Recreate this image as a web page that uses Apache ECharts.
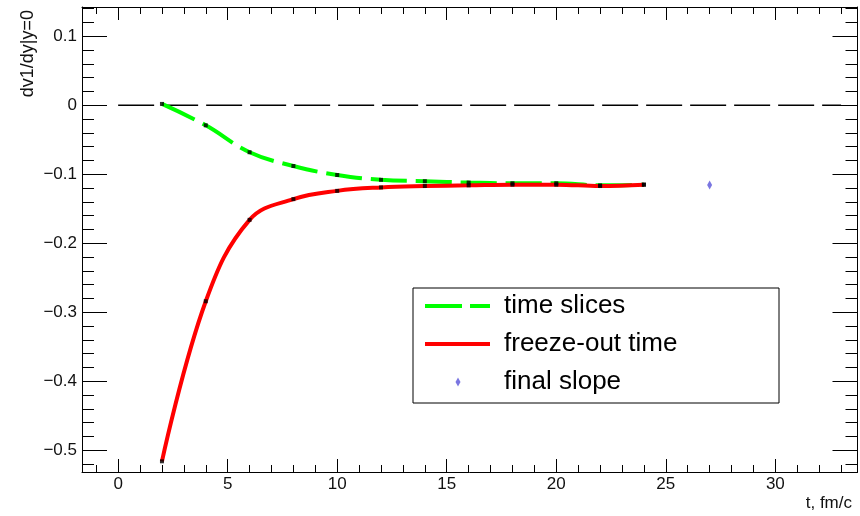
<!DOCTYPE html>
<html>
<head>
<meta charset="utf-8">
<script src="https://cdn.jsdelivr.net/npm/echarts@6/dist/echarts.min.js"></script>
<style>html,body{margin:0;padding:0;background:#fff}#c{width:860px;height:516px}</style>
</head>
<body>
<div id="c"></div>
<script>
// ---- data ----
const tValues = [2, 4, 6, 8, 10, 12, 14, 16, 18, 20, 22, 24];
const timeSlices = [0.002, -0.029, -0.068, -0.088, -0.101, -0.108, -0.110, -0.112, -0.113, -0.113, -0.116, -0.115];
const freezeOut = [-0.516, -0.284, -0.166, -0.136, -0.124, -0.119, -0.117, -0.116, -0.115, -0.115, -0.117, -0.115];
const finalSlopeT = [27];
const finalSlope = [-0.1155];
const zeroLineT = [0, 33];
const zeroLine = [0, 0];
const seriesNames = ['time slices', 'freeze-out time', 'final slope'];
const xTitle = 't, fm/c';
const yTitle = 'dv1/dy|y=0';

const pairs = (xs, ys) => xs.map((x, i) => [x, ys[i]]);
const REG = "'Liberation Sans', Arial, sans-serif";
const black = '#000';

const chart = echarts.init(document.getElementById('c'), null, {renderer: 'canvas'});

const xCommon = {
  type: 'value', min: -1.65, max: 33.75, splitNumber: 7,
  axisLine: {show: true, onZero: false, lineStyle: {color: black, width: 1}},
  axisTick: {show: true, inside: true, length: 13, lineStyle: {color: black, width: 1}},
  minorTick: {show: true, splitNumber: 5, length: 7, lineStyle: {color: black, width: 1}},
  splitLine: {show: false}, minorSplitLine: {show: false}
};
const yCommon = {
  type: 'value', min: -0.5315, max: 0.1425, splitNumber: 7,
  axisLine: {show: true, onZero: false, lineStyle: {color: black, width: 1}},
  axisTick: {show: true, inside: true, length: 25, lineStyle: {color: black, width: 1}},
  minorTick: {show: true, splitNumber: 5, length: 12, lineStyle: {color: black, width: 1}},
  splitLine: {show: false}, minorSplitLine: {show: false}
};

const greenIcon = 'path://M0,0M65,9M0,2.5H37V6.5H0Z M45,2.5H65V6.5H45Z';
const redIcon = 'path://M0,0M65,9M0,2.5H65V6.5H0Z';
const diamondIcon = 'path://M0,0M65,9M33,0L35.5,4.5L33,9L30.5,4.5Z';

chart.setOption({
  animation: false,
  backgroundColor: '#fff',
  grid: {left: 82, right: 2.5, top: 7, bottom: 44, containLabel: false},
  xAxis: [
    Object.assign({}, xCommon, {position: 'bottom',
      axisLabel: {show: true, margin: 4, showMinLabel: false, showMaxLabel: false,
        color: '#111', fontFamily: REG, fontSize: 17}}),
    Object.assign({}, xCommon, {position: 'top', axisLabel: {show: false}})
  ],
  yAxis: [
    Object.assign({}, yCommon, {position: 'left',
      axisLabel: {show: true, margin: 5, showMinLabel: false, showMaxLabel: false,
        color: '#111', fontFamily: REG, fontSize: 17,
        formatter: v => Math.abs(v) < 1e-9 ? '0' : (v < 0 ? '\u2212' : '') + Math.abs(v).toFixed(1)}}),
    Object.assign({}, yCommon, {position: 'right', axisLabel: {show: false}})
  ],
  legend: {
    orient: 'vertical', left: 425, top: 291, padding: 0, itemGap: 8,
    itemWidth: 65, itemHeight: 9, selectedMode: false,
    textStyle: {fontFamily: REG, fontSize: 26, lineHeight: 30, color: '#000', padding: [0, 0, 0, 9]},
    data: [
      {name: seriesNames[0], icon: greenIcon, itemStyle: {color: '#00ff00', borderWidth: 0}},
      {name: seriesNames[1], icon: redIcon, itemStyle: {color: '#ff0000', borderWidth: 0}},
      {name: seriesNames[2], icon: diamondIcon, itemStyle: {color: '#5954d9', borderWidth: 0}}
    ]
  },
  graphic: [
    {type: 'rect', shape: {x: 413, y: 288, width: 366, height: 115},
      style: {fill: 'none', stroke: '#000', lineWidth: 1}, z: 10},
    {type: 'text', x: 852, y: 503,
      style: {text: xTitle, fontFamily: REG, fontSize: 17, fill: '#111', align: 'right', verticalAlign: 'middle'}},
    {type: 'text', x: 28, y: 10, rotation: Math.PI / 2,
      style: {text: yTitle, fontFamily: REG, fontSize: 18, fill: '#111', align: 'right', verticalAlign: 'middle'}}
  ],
  series: [
    {type: 'line', name: 'zero', data: pairs(zeroLineT, zeroLine), showSymbol: false, silent: true,
      lineStyle: {color: '#000', width: 1.5, type: [36, 8]}, z: 1},
    {type: 'line', name: seriesNames[0], data: pairs(tValues, timeSlices), smooth: 0.4, showSymbol: false,
      itemStyle: {color: '#00ff00'}, lineStyle: {color: '#00ff00', width: 4, type: [36, 9]}, z: 2},
    {type: 'line', name: seriesNames[1], data: pairs(tValues, freezeOut), smooth: 0.4, showSymbol: false,
      itemStyle: {color: '#ff0000'}, lineStyle: {color: '#ff0000', width: 4}, z: 3},
    {type: 'scatter', name: 'markers', data: pairs(tValues, timeSlices).concat(pairs(tValues, freezeOut)),
      symbol: 'rect', symbolSize: 4, itemStyle: {color: '#000'}, z: 5, silent: true},
    {type: 'scatter', name: seriesNames[2], data: pairs(finalSlopeT, finalSlope),
      symbol: 'diamond', symbolSize: [5, 9], itemStyle: {color: '#5954d9'}, z: 5}
  ]
});
</script>
</body>
</html>
